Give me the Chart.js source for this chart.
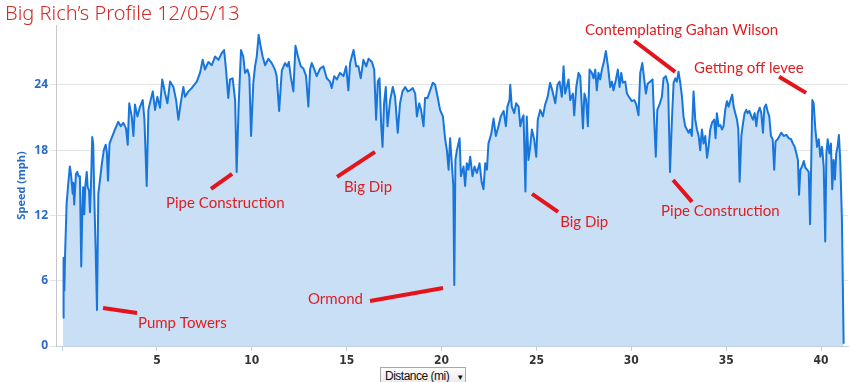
<!DOCTYPE html>
<html><head><meta charset="utf-8">
<script src="https://cdn.jsdelivr.net/npm/chart.js@4/dist/chart.umd.min.js"></script>
<style>
html,body{margin:0;padding:0;background:#fff;}
#wrap{position:relative;width:850px;height:382px;overflow:hidden;}
#c{position:absolute;left:0;top:0;}
#title{position:absolute;left:5px;top:-1px;font:300 20px 'Noto Sans',sans-serif;color:#d42a27;white-space:nowrap;}
#xsel{position:absolute;left:380px;top:367px;width:86px;height:20px;box-sizing:border-box;border:1px solid #a9a9a9;background:linear-gradient(#fdfdfd,#e6e6e6);font:12px 'Liberation Sans',sans-serif;letter-spacing:-0.5px;color:#111;padding:1px 0 0 4px;white-space:nowrap;}
#xsel span{font-size:8px;margin-left:7px;}
</style></head>
<body><div id="wrap"><canvas id="c" width="850" height="382" style="width:850px;height:382px"></canvas><div id="title">Big Rich’s Profile 12/05/13</div><div id="xsel">Distance (mi)<span>▼</span></div></div>
<script>
const distance = [
0.05,0.08,0.12,0.16,0.24,0.33,0.41,0.47,0.56,0.59,
0.64,0.73,0.80,0.87,0.94,1.01,1.06,1.11,1.17,1.22,
1.30,1.35,1.42,1.47,1.52,1.59,1.64,1.70,1.77,1.84,
1.91,2.00,2.10,2.20,2.30,2.36,2.42,2.50,2.61,2.79,
2.96,3.09,3.23,3.37,3.46,3.54,3.67,3.76,3.84,3.97,
4.11,4.25,4.34,4.46,4.55,4.63,4.78,4.90,5.02,5.16,
5.28,5.43,5.55,5.69,5.87,6.01,6.13,6.25,6.39,6.48,
6.66,6.83,7.10,7.27,7.41,7.53,7.71,7.89,8.06,8.24,
8.41,8.54,8.64,8.76,8.85,8.99,9.12,9.20,9.31,9.43,
9.55,9.64,9.77,9.87,9.96,10.08,10.17,10.26,10.36,10.47,
10.57,10.70,10.87,11.05,11.22,11.31,11.44,11.58,11.75,11.87,
11.95,12.05,12.19,12.30,12.45,12.58,12.72,12.86,12.98,13.07,
13.16,13.30,13.42,13.60,13.77,13.95,14.12,14.21,14.34,14.48,
14.65,14.83,14.97,15.09,15.18,15.36,15.50,15.62,15.74,15.88,
16.03,16.15,16.33,16.45,16.55,16.64,16.73,16.82,16.89,16.97,
17.06,17.15,17.29,17.43,17.55,17.69,17.81,17.94,18.08,18.22,
18.34,18.48,18.61,18.70,18.82,18.92,19.05,19.13,19.26,19.40,
19.54,19.66,19.79,19.92,20.07,20.19,20.28,20.37,20.45,20.54,
20.62,20.67,20.73,20.81,20.95,21.02,21.16,21.24,21.33,21.42,
21.51,21.63,21.74,21.86,22.00,22.12,22.21,22.30,22.39,22.47,
22.62,22.74,22.86,23.00,23.12,23.27,23.39,23.47,23.58,23.62,
23.70,23.83,23.93,24.06,24.15,24.23,24.32,24.42,24.49,24.58,
24.67,24.76,24.88,24.99,25.07,25.20,25.34,25.46,25.59,25.72,
25.85,25.99,26.11,26.22,26.34,26.43,26.51,26.60,26.69,26.78,
26.92,26.99,27.10,27.22,27.31,27.45,27.53,27.62,27.71,27.80,
27.92,28.01,28.10,28.18,28.27,28.36,28.45,28.54,28.66,28.77,
28.89,28.98,29.06,29.19,29.29,29.38,29.47,29.55,29.68,29.77,
29.91,30.03,30.16,30.26,30.38,30.47,30.58,30.68,30.77,30.86,
31.00,31.12,31.21,31.29,31.37,31.49,31.61,31.70,31.82,31.94,
32.04,32.14,32.23,32.32,32.40,32.49,32.58,32.67,32.75,32.84,
32.93,33.02,33.10,33.19,33.28,33.37,33.46,33.55,33.63,33.72,
33.81,33.90,33.99,34.07,34.16,34.25,34.37,34.44,34.51,34.60,
34.69,34.78,34.86,34.95,35.04,35.13,35.21,35.32,35.39,35.48,
35.57,35.64,35.71,35.80,35.89,35.97,36.06,36.13,36.22,36.33,
36.41,36.50,36.59,36.66,36.77,36.85,36.94,37.01,37.10,37.18,
37.27,37.36,37.45,37.53,37.60,37.71,37.81,37.90,38.03,38.17,
38.29,38.42,38.52,38.61,38.70,38.78,38.84,38.91,39.00,39.09,
39.17,39.26,39.35,39.42,39.49,39.54,39.61,39.70,39.79,39.88,
39.96,40.05,40.14,40.22,40.28,40.35,40.44,40.52,40.59,40.66,
40.73,40.80,40.87,40.94,41.01,41.10,41.19
];
const speed = [
2.6,8.1,5.1,8.5,13.1,15.0,16.5,15.8,14.0,15.0,
13.0,15.8,16.0,15.6,15.6,7.3,11.9,14.6,12.1,14.6,
16.0,14.6,14.3,12.3,14.6,19.2,18.6,13.5,8.8,3.3,
14.0,15.3,16.8,18.0,18.5,17.8,15.2,18.6,19.1,19.9,
20.6,20.2,20.5,20.0,18.5,22.3,21.1,19.3,22.2,21.1,
22.0,22.6,20.8,14.7,21.7,22.3,23.4,21.7,22.9,21.9,
24.5,23.2,22.3,24.3,23.8,22.6,20.8,22.3,23.8,22.9,
23.4,23.7,24.3,25.1,26.3,25.4,26.1,25.8,26.6,26.3,
26.9,27.2,25.4,22.8,24.5,24.6,22.6,16.0,22.3,27.2,
26.6,25.1,25.4,24.8,19.3,24.2,25.7,26.6,28.6,27.5,
26.6,25.8,26.4,26.0,25.4,24.8,21.6,25.3,26.0,25.7,
26.1,24.8,23.4,27.6,26.5,25.7,25.5,24.8,22.0,25.4,
26.0,25.4,24.8,25.5,25.7,24.6,24.3,23.7,24.8,24.5,
25.1,24.8,25.7,23.5,26.0,27.2,25.7,25.7,24.6,26.3,
25.7,26.4,26.1,25.4,20.8,24.3,24.6,20.2,18.3,22.3,
23.8,20.2,22.6,23.8,22.9,19.6,22.3,23.4,23.8,23.4,
23.5,23.7,23.2,21.1,22.3,21.7,20.2,22.8,22.8,23.5,
24.2,24.0,22.9,21.7,21.1,19.0,18.0,16.2,19.1,16.8,
14.7,5.6,17.1,18.0,19.1,15.6,16.5,14.7,16.8,16.2,
17.4,15.6,16.5,15.9,16.8,15.0,14.4,16.8,16.2,18.6,
19.5,20.9,19.3,20.2,21.1,21.6,20.2,22.0,22.6,24.0,
22.0,21.4,22.3,22.0,20.2,20.8,21.2,14.2,21.1,17.1,
18.3,19.9,19.0,17.4,20.8,21.7,21.1,22.2,22.9,24.2,
23.4,22.3,24.0,24.3,22.9,25.7,23.2,23.8,24.5,22.6,
23.2,21.2,23.8,25.1,24.8,20.0,23.2,22.6,20.2,25.4,
25.1,24.6,25.4,23.5,25.1,24.5,25.4,26.0,27.1,25.7,
23.8,24.3,23.5,24.5,25.4,23.8,25.1,24.2,24.3,23.2,
22.8,22.5,22.6,22.2,21.2,25.1,26.0,24.5,23.2,24.1,
24.3,24.5,20.6,17.4,21.7,22.2,22.9,24.6,24.8,24.0,
16.0,20.8,24.2,24.6,24.3,25.2,24.2,22.9,21.1,20.2,
19.9,19.6,19.9,19.3,23.4,20.8,19.9,19.3,18.0,19.9,
18.6,19.3,17.3,18.3,19.9,20.5,20.8,19.1,21.4,20.2,
20.3,19.9,20.2,21.7,22.5,22.0,22.5,23.1,22.0,21.4,
20.8,19.9,15.1,19.3,20.5,21.4,21.7,21.4,21.6,21.1,
20.8,21.4,20.2,21.4,21.9,21.4,19.6,21.9,22.2,21.6,
21.1,19.3,19.0,16.2,18.8,19.0,19.3,19.6,19.3,19.4,
19.1,19.0,18.6,18.3,17.7,17.1,13.9,16.2,16.5,17.0,
16.4,16.2,16.0,11.2,17.7,22.6,22.3,19.9,18.3,19.0,
17.4,18.3,16.5,9.6,17.7,19.0,17.7,18.6,14.4,17.1,
15.3,17.7,18.3,19.4,17.1,11.6,0.2
];
const xTickValues = [0,5,10,15,20,25,30,35,40];
const yTickValues = [0,6,12,18,24];

// Notes written on the chart: label text and anchor points in data units (miles, mph)
const noteLabels = ['Pump Towers','Pipe Construction','Big Dip','Ormond','Big Dip','Pipe Construction','Contemplating Gahan Wilson','Getting off levee'];
const noteTextAt = [[4.0,2.1],[5.48,13.15],[14.86,14.62],[12.96,4.32],[26.25,11.4],[31.57,12.41],[27.56,29.06],[33.31,25.56]];
const notePointerFrom = [[2.16,3.5],[7.85,14.44],[14.49,15.54],[16.23,4.14],[24.77,13.98],[32.2,15.26],[30.15,28.05],[37.79,24.74]];
const notePointerTo = [[3.95,3.03],[8.96,15.82],[16.49,17.84],[20.08,5.33],[26.14,12.32],[33.2,13.24],[32.31,25.2],[39.21,23.26]];

const notesPlugin = {
  id: 'notes',
  afterDatasetsDraw(chart) {
    const ctx = chart.ctx, xs = chart.scales.x, ys = chart.scales.y;
    ctx.save();
    ctx.strokeStyle = '#e3141b';
    ctx.lineWidth = 4;
    ctx.lineCap = 'butt';
    notePointerFrom.forEach((p, i) => {
      const q = notePointerTo[i];
      ctx.beginPath();
      ctx.moveTo(xs.getPixelForValue(p[0]), ys.getPixelForValue(p[1]));
      ctx.lineTo(xs.getPixelForValue(q[0]), ys.getPixelForValue(q[1]));
      ctx.stroke();
    });
    ctx.fillStyle = '#dd1f22';
    ctx.font = '15px Lato, sans-serif';
    ctx.textAlign = 'left';
    ctx.textBaseline = 'middle';
    noteLabels.forEach((t, i) => {
      const a = noteTextAt[i];
      ctx.fillText(t, xs.getPixelForValue(a[0]), ys.getPixelForValue(a[1]));
    });
    ctx.restore();
  }
};

const points = distance.map((d, i) => ({x: d, y: speed[i]}));

new Chart(document.getElementById('c'), {
  type: 'line',
  data: { datasets: [{
    data: points,
    borderColor: '#1876db',
    backgroundColor: '#c9dff6',
    borderWidth: 2,
    fill: 'origin',
    pointRadius: 0,
    tension: 0,
    borderJoinStyle: 'round'
  }]},
  options: {
    responsive: false,
    devicePixelRatio: 1,
    animation: false,
    layout: { padding: { top: 25, right: 2, left: 0, bottom: 0 } },
    plugins: { legend: { display: false }, tooltip: { enabled: false } },
    scales: {
      x: {
        type: 'linear',
        min: -0.32,
        max: 41.42,
        afterBuildTicks: s => { s.ticks = xTickValues.map(v => ({value: v})); },
        afterFit: s => { s.height = 36; },
        ticks: {
          callback: v => v === 0 ? '' : String(v),
          color: '#333',
          font: { family: "'DejaVu Sans Condensed', 'Liberation Sans Narrow', sans-serif", size: 12, weight: 'bold' },
          padding: 3,
          maxRotation: 0,
          autoSkip: false
        },
        grid: { drawOnChartArea: false, drawTicks: true, tickLength: 5, color: '#c0d0e0' },
        border: { display: true, color: '#c0d0e0', width: 1 }
      },
      y: {
        min: 0,
        max: 29.5,
        afterBuildTicks: s => { s.ticks = yTickValues.map(v => ({value: v})); },
        afterFit: s => { s.width = 56; },
        ticks: {
          color: '#2a6cc4',
          font: { family: "'Open Sans', sans-serif", size: 12, weight: 'bold' },
          padding: 2
        },
        grid: { color: '#e4e4e4', tickLength: 6 },
        border: { display: true, color: '#c8c8c8', width: 1 },
        title: {
          display: true,
          text: 'Speed (mph)',
          color: '#2a6cc4',
          font: { family: "'Open Sans', sans-serif", size: 11, weight: 'bold' },
          padding: { top: 15, bottom: 0 }
        }
      }
    }
  },
  plugins: [notesPlugin]
});
</script>
</body></html>
